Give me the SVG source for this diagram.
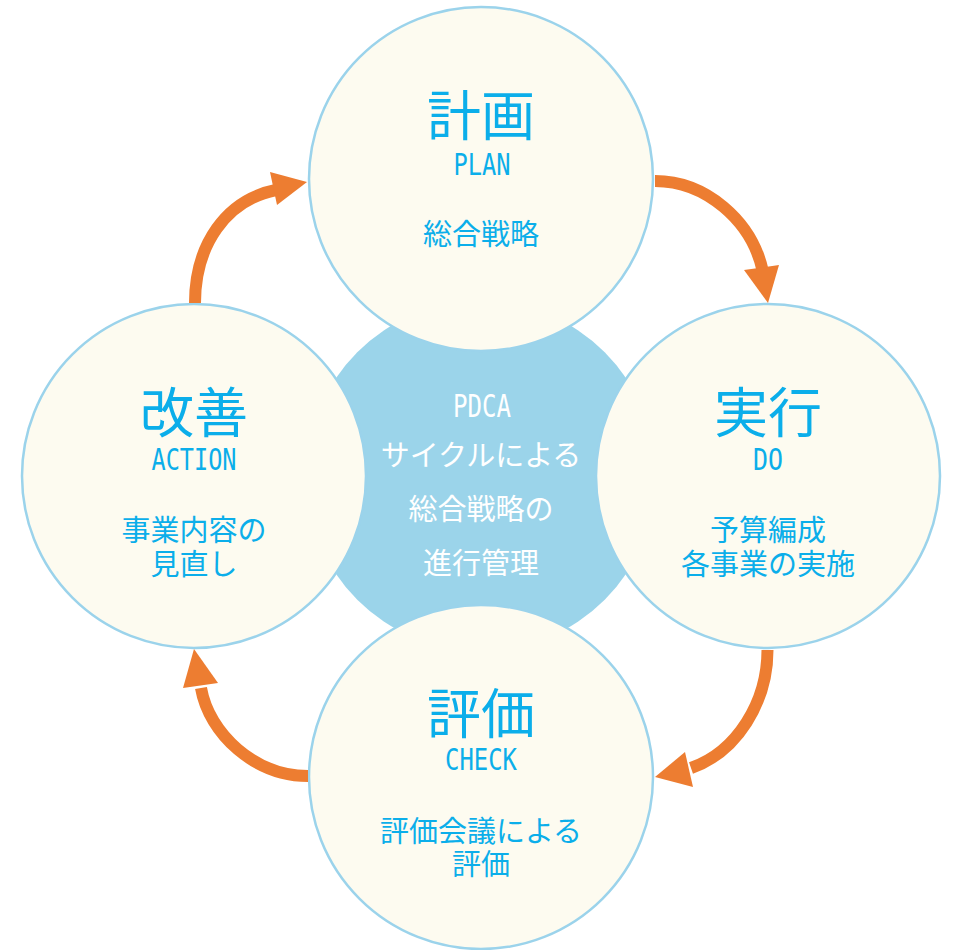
<svg xmlns="http://www.w3.org/2000/svg" width="954" height="950" viewBox="0 0 954 950">
<style>
.node{fill:#FDFBF0;stroke:#9BD3EB;stroke-width:2.5}
.title{font-family:"Noto Sans CJK JP",sans-serif;font-size:54px;fill:#0BAEEA;text-anchor:middle}
.en{font-family:"DejaVu Sans Mono","Liberation Mono",monospace;font-size:31px;fill:#0BAEEA;text-anchor:middle}
.desc{font-family:"Noto Sans CJK JP",sans-serif;font-size:29px;fill:#0BAEEA;text-anchor:middle}
.ctr{font-family:"Noto Sans CJK JP",sans-serif;font-size:29px;fill:#FFFFFF;text-anchor:middle}
.ctren{font-family:"DejaVu Sans Mono","Liberation Mono",monospace;font-size:32px;fill:#FFFFFF;text-anchor:middle}
.shaft{fill:none;stroke:#ED7D31;stroke-width:12}
.head{fill:#ED7D31}
</style>
<rect width="954" height="950" fill="#FFFFFF"/>
<g id="center">
<circle cx="481" cy="476" r="175" fill="#9BD4EA"/>
</g>
<g id="plan">
<circle class="node" cx="481" cy="179" r="172"/>
<text class="title" x="481" y="136">計画</text>
<text class="en" x="482" y="175" textLength="57" lengthAdjust="spacingAndGlyphs">PLAN</text>
<text class="desc" x="481" y="245">総合戦略</text>
</g>
<g id="do">
<circle class="node" cx="768" cy="476" r="172"/>
<text class="title" x="768" y="433">実行</text>
<text class="en" x="768" y="470" textLength="30" lengthAdjust="spacingAndGlyphs">DO</text>
<text class="desc" x="768" y="541">予算編成</text>
<text class="desc" x="768" y="575">各事業の実施</text>
</g>
<g id="check">
<circle class="node" cx="481" cy="777" r="172"/>
<text class="title" x="481" y="734">評価</text>
<text class="en" x="481" y="770" textLength="72" lengthAdjust="spacingAndGlyphs">CHECK</text>
<text class="desc" x="481" y="842">評価会議による</text>
<text class="desc" x="481" y="875">評価</text>
</g>
<g id="action">
<circle class="node" cx="194" cy="476" r="172"/>
<text class="title" x="194" y="433">改善</text>
<text class="en" x="194" y="470" textLength="85" lengthAdjust="spacingAndGlyphs">ACTION</text>
<text class="desc" x="194" y="541">事業内容の</text>
<text class="desc" x="194" y="575">見直し</text>
</g>
<g id="center-text">
<text class="ctren" x="482" y="417" textLength="58" lengthAdjust="spacingAndGlyphs">PDCA</text>
<text class="ctr" x="481" y="466">サイクルによる</text>
<text class="ctr" x="481" y="520">総合戦略の</text>
<text class="ctr" x="481" y="574">進行管理</text>
</g>
<g id="connectors">
<path class="shaft" d="M655,181 C705,181 752,220 763,272"/>
<polygon class="head" points="744,270 779,265 768,303"/>
<path class="shaft" d="M767.5,650 C767.5,702 737,752 691,768"/>
<polygon class="head" points="685,752 693,787 655,777"/>
<path class="shaft" d="M308,776 C255,776 209,734 201,688"/>
<polygon class="head" points="183,688 218,683 194,649"/>
<path class="shaft" d="M195,303 C195,245 226,200 276,190"/>
<polygon class="head" points="270,172 277,205 307,182"/>
</g>
</svg>
